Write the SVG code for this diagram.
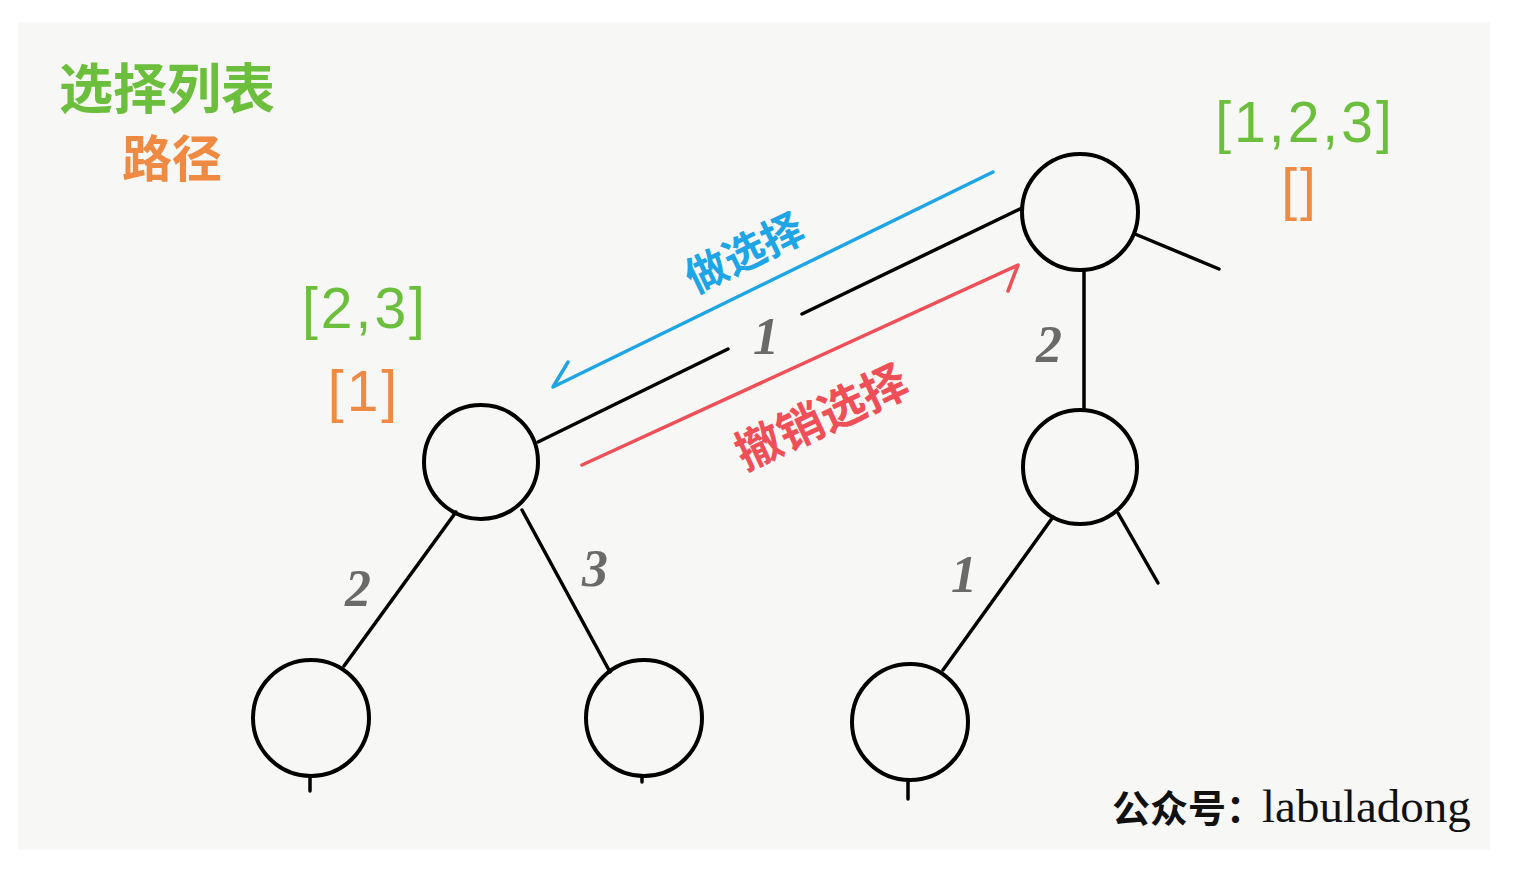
<svg xmlns="http://www.w3.org/2000/svg" width="1538" height="882" viewBox="0 0 1538 882">
<style>
.node{fill:none;stroke:#000;stroke-width:4}
.edge{stroke:#000;stroke-width:3.5;fill:none;stroke-linecap:round}
.num{font-family:"Liberation Serif",serif;font-style:italic;font-weight:bold;font-size:52px;fill:#6a6a6a;text-anchor:middle}
.lbl{font-family:"Liberation Sans",sans-serif;font-size:57px;text-anchor:middle;letter-spacing:3px}
.cjk{font-family:"Noto Sans CJK SC",sans-serif;font-weight:bold}
.green{fill:#6cbf3c}
.orange{fill:#ef8a43}
</style>
<rect x="0" y="0" width="1538" height="882" fill="#ffffff"/>
<rect x="18" y="22" width="1472" height="828" fill="#f7f7f5"/>
<text x="59" y="109" class="cjk green" font-size="54">选择列表</text>
<text x="122" y="177" class="cjk orange" font-size="50">路径</text>
<g id="connectors">
<path class="edge" d="M1022 208 L802 314 M728 349 L538 442"/>
<path class="edge" d="M1135 234 L1219 269"/>
<path class="edge" d="M1084 270 L1084 410"/>
<path class="edge" d="M456 512 L344 666"/>
<path class="edge" d="M522 510 L610 672"/>
<path class="edge" d="M1053 517 L943 670"/>
<path class="edge" d="M1118 513 L1158 583"/>
<path class="edge" d="M310 777 L310 791"/>
<path class="edge" d="M642 777 L642 782"/>
<path class="edge" d="M908 781 L908 799"/>
<path d="M993 172 L553 387 L568 362" fill="none" stroke="#1ea5e6" stroke-width="3.5" stroke-linecap="round" stroke-linejoin="round"/>
<path d="M582 465 L1018 265 L1008 291" fill="none" stroke="#ef5058" stroke-width="3.5" stroke-linecap="round" stroke-linejoin="round"/>
<text x="766" y="354" class="num">1</text>
<text x="1049" y="362" class="num">2</text>
<text x="358" y="606" class="num">2</text>
<text x="595" y="586" class="num">3</text>
<text x="964" y="592" class="num">1</text>
<text transform="translate(743 250) rotate(-26)" class="cjk" font-size="42" fill="#1ea5e6" text-anchor="middle" dominant-baseline="central">做选择</text>
<text transform="translate(820 414) rotate(-25)" class="cjk" font-size="46" fill="#ef5058" text-anchor="middle" dominant-baseline="central">撤销选择</text>
</g>
<g id="root"><circle class="node" cx="1080" cy="212" r="58"/>
<text x="1305" y="142" class="lbl green">[1,2,3]</text>
<text x="1300" y="209" class="lbl orange" letter-spacing="8">[]</text></g>
<g id="nodeA"><circle class="node" cx="481" cy="462" r="57"/>
<text x="365" y="328" class="lbl green">[2,3]</text>
<text x="364" y="411" class="lbl orange" letter-spacing="6">[1]</text></g>
<g id="nodeB"><circle class="node" cx="1080" cy="467" r="57"/></g>
<g id="leafA1"><circle class="node" cx="311" cy="718" r="58"/></g>
<g id="leafA2"><circle class="node" cx="644" cy="718" r="58"/></g>
<g id="leafB1"><circle class="node" cx="910" cy="722" r="58"/></g>
<text x="1112" y="822" fill="#111"><tspan class="cjk" font-size="38">公众号：</tspan><tspan font-family="Liberation Serif,serif" font-size="47" x="1262">labuladong</tspan></text>
</svg>
